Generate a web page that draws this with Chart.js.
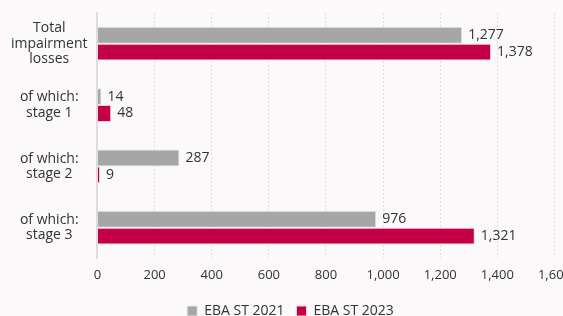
<!DOCTYPE html>
<html>
<head>
<meta charset="utf-8">
<script src="https://cdn.jsdelivr.net/npm/chart.js@4.4.0/dist/chart.umd.min.js"></script>
<style>
  html, body { margin: 0; padding: 0; background: #fbf9f9; overflow: hidden; }
  #wrap { width: 580px; height: 328px; position: relative; }
</style>
</head>
<body>
<div id="wrap"><canvas id="chart"></canvas></div>
<script>
const categories = [
    ["Total", "impairment", "losses"],
    ["of which:", "stage 1"],
    ["of which:", "stage 2"],
    ["of which:", "stage 3"]
];
const st2021 = [1277, 14, 287, 976];
const st2023 = [1378, 48, 9, 1321];
const xTicks = [0, 200, 400, 600, 800, 1000, 1200, 1400, 1600];

const fontFamily = "'Open Sans', sans-serif";
const textColor = "#333333";

// draw the value at the end of each bar
const valueLabels = {
    id: "valueLabels",
    afterDatasetsDraw(chart) {
        const ctx = chart.ctx;
        ctx.save();
        ctx.font = "14px " + fontFamily;
        ctx.fillStyle = textColor;
        ctx.textBaseline = "middle";
        ctx.textAlign = "left";
        chart.data.datasets.forEach((ds, i) => {
            chart.getDatasetMeta(i).data.forEach((bar, j) => {
                ctx.fillText(ds.data[j].toLocaleString("en-US"), bar.x + 6, bar.y);
            });
        });
        ctx.restore();
    }
};

new Chart(document.getElementById("chart"), {
    type: "bar",
    data: {
        labels: categories,
        datasets: [
            {
                label: "EBA ST 2021",
                data: st2021,
                backgroundColor: "#a6a6a6",
                borderColor: "#e4e4e4",
                borderWidth: 1,
                categoryPercentage: 0.55,
                barPercentage: 1
            },
            {
                label: "EBA ST 2023",
                data: st2023,
                backgroundColor: "#c30045",
                borderColor: "#f2d0db",
                borderWidth: 1,
                categoryPercentage: 0.55,
                barPercentage: 1
            }
        ]
    },
    options: {
        indexAxis: "y",
        responsive: true,
        maintainAspectRatio: false,
        animation: false,
        layout: { padding: { top: 13, right: 0, left: 1, bottom: 0 } },
        plugins: {
            legend: {
                position: "bottom",
                labels: {
                    color: textColor,
                    font: { family: fontFamily, size: 14 },
                    boxWidth: 10,
                    boxHeight: 10,
                    padding: 12
                }
            },
            tooltip: { enabled: false }
        },
        scales: {
            x: {
                min: 0,
                max: 1600,
                afterBuildTicks: axis => { axis.ticks = xTicks.map(v => ({ value: v })); },
                ticks: {
                    color: textColor,
                    font: { family: fontFamily, size: 13 },
                    padding: 9,
                    callback: v => v.toLocaleString("en-US")
                },
                grid: {
                    color: "#dddddd",
                    drawTicks: false
                },
                border: { display: false, dash: [2, 2] }
            },
            y: {
                ticks: {
                    color: textColor,
                    font: { family: fontFamily, size: 14, lineHeight: 1.1 },
                    padding: 10,
                    crossAlign: "center"
                },
                grid: { display: false, drawTicks: false },
                border: { color: "#dddddd", width: 2 },
                // the multi-line labels sit inside their bands, no extra room needed
                afterFit: scale => { scale.paddingTop = 0; scale.paddingBottom = 0; }
            }
        }
    },
    plugins: [valueLabels]
});
</script>
</body>
</html>
